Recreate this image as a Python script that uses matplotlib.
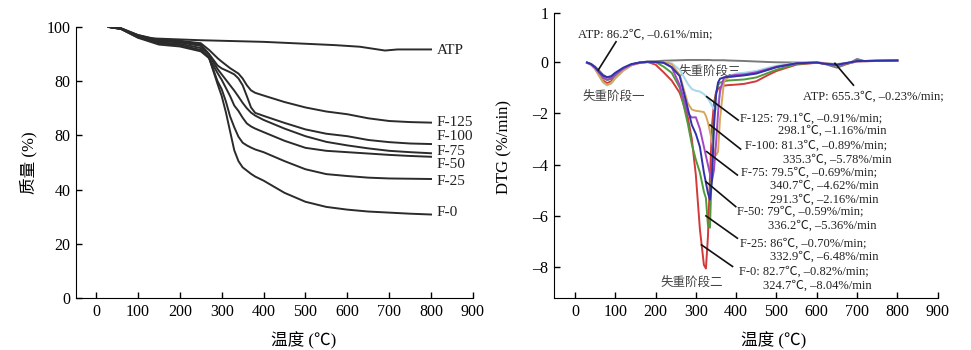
import matplotlib
matplotlib.use("Agg")
import matplotlib.pyplot as plt

plt.rcParams['font.family'] = ['Liberation Serif', 'Noto Sans CJK SC', 'DejaVu Sans']

# ---- TG data (left) ----
atp_T = [30, 60, 100, 130, 250, 400, 500, 570, 630, 660, 690, 720, 800]
atp_tg = [100, 99.4, 97, 95.8, 95.1, 94.5, 93.8, 93.3, 92.7, 92.0, 91.3, 91.7, 91.7]

tg_T = [30, 60, 100, 150, 200, 250, 270, 290, 300, 310, 320, 330, 340, 350, 360,
        370, 380, 400, 450, 500, 550, 600, 650, 700, 750, 800]
tg_f0 = [100, 99.2, 96, 93.5, 92.8, 91, 88.5, 79, 74.5, 68.5, 61.5, 54.5, 50.5, 48.2, 47,
         45.8, 44.8, 43.3, 38.8, 35.5, 33.6, 32.6, 31.9, 31.5, 31.1, 30.8]
tg_f25 = [100, 99.2, 96.2, 94, 93.3, 91.5, 88.5, 80, 77, 72.5, 67, 63, 59.5, 57.3, 56.3,
          55.5, 54.8, 53.8, 50.5, 47.5, 45.7, 45, 44.4, 44.1, 44, 43.9]
tg_f50 = [100, 99.3, 96.3, 94.3, 93.8, 92.2, 88.5, 83, 80.5, 77.5, 74.5, 71, 69, 66.5, 64.4,
          63.3, 62.5, 61.2, 58, 55.4, 54.3, 53.8, 53.3, 52.8, 52.4, 52.1]
tg_f75 = [100, 99.4, 96.6, 94.8, 94.3, 93, 89.5, 84.5, 82.5, 80.5, 78.5, 76.5, 74.3, 72, 70,
          68.4, 67.3, 65.7, 62.5, 59.7, 57.6, 56.3, 55.2, 54.3, 53.8, 53.4]
tg_f100 = [100, 99.4, 96.8, 95, 94.6, 93.5, 90, 85.8, 84.7, 84, 83.3, 82.5, 81, 78.5, 74.5,
           70.3, 68.3, 67.2, 64.6, 62.2, 60.6, 59.7, 58.3, 57.5, 57, 56.8]
tg_f125 = [100, 99.5, 97, 95.3, 94.9, 94, 91.5, 88.5, 87.2, 86, 84.8, 83.8, 82.8, 81, 78.5,
           76.6, 75.7, 74.7, 72.3, 70.3, 68.8, 67.8, 66.3, 65.3, 64.9, 64.7]

tg_names = ['ATP', 'F-125', 'F-100', 'F-75', 'F-50', 'F-25', 'F-0']
tg_label_y = [91.3, 64.9, 59.4, 53.9, 49.1, 42.8, 31.4]

# ---- DTG data (right) ----
dtg_T = [30, 40, 50, 60, 70, 80, 90, 100, 120, 140, 160, 180, 200, 220, 240, 260, 280,
         290, 300, 310, 320, 325, 330, 335, 340, 345, 350, 355, 360, 370, 380, 400, 420,
         450, 480, 500, 550, 600, 620, 650, 680, 700, 720, 750, 800]
dtg_atp = [-0.02, -0.07, -0.18, -0.33, -0.5, -0.6, -0.6, -0.46, -0.26, -0.1, -0.02, 0.02,
           0.03, 0.05, 0.06, 0.07, 0.08, 0.08, 0.08, 0.08, 0.08, 0.08, 0.08, 0.08, 0.07,
           0.07, 0.07, 0.07, 0.07, 0.07, 0.06, 0.05, 0.04, 0.02, 0.0, -0.01, -0.02, -0.02,
           -0.08, -0.22, -0.05, 0.12, 0.03, 0.05, 0.06]
dtg_f0 = [-0.03, -0.1, -0.25, -0.5, -0.72, -0.82, -0.75, -0.58, -0.3, -0.12, -0.03, 0.0,
          -0.1, -0.4, -0.72, -1.2, -2.15, -3.0, -4.4, -6.5, -7.9, -8.04, -6.8, -4.5, -2.5,
          -1.6, -1.2, -1.05, -0.98, -0.92, -0.9, -0.88, -0.85, -0.75, -0.5, -0.35, -0.1,
          -0.03, -0.06, -0.12, -0.05, 0.02, 0.03, 0.04, 0.05]
dtg_f25 = [-0.03, -0.09, -0.22, -0.42, -0.62, -0.7, -0.66, -0.5, -0.27, -0.1, -0.03, 0.0,
           0.0, -0.18, -0.42, -1.0, -2.4, -3.2, -3.8, -4.3, -5.05, -5.3, -6.35, -6.45, -4.0,
           -2.1, -1.2, -0.9, -0.8, -0.75, -0.72, -0.7, -0.68, -0.6, -0.42, -0.3, -0.08,
           -0.02, -0.06, -0.1, -0.04, 0.03, 0.04, 0.05, 0.06]
dtg_f50 = [-0.02, -0.08, -0.2, -0.38, -0.53, -0.59, -0.55, -0.42, -0.22, -0.08, -0.02, 0.01,
           0.0, -0.03, -0.2, -0.55, -1.8, -2.45, -2.8, -3.3, -4.3, -4.7, -5.1, -5.36, -4.6,
           -2.5, -1.3, -0.8, -0.65, -0.6, -0.58, -0.55, -0.52, -0.45, -0.3, -0.2, -0.05,
           -0.02, -0.07, -0.11, -0.02, 0.04, 0.04, 0.05, 0.06]
dtg_f75 = [-0.02, -0.09, -0.22, -0.42, -0.6, -0.69, -0.64, -0.49, -0.26, -0.1, -0.03, 0.0,
           0.0, -0.02, -0.2, -0.9, -2.0, -2.16, -2.15, -2.6, -3.3, -3.65, -4.0, -4.35, -4.62,
           -4.2, -3.2, -2.0, -1.1, -0.6, -0.55, -0.5, -0.48, -0.4, -0.27, -0.18, -0.05,
           -0.02, -0.06, -0.1, -0.03, 0.03, 0.04, 0.05, 0.06]
dtg_f100 = [-0.03, -0.11, -0.27, -0.53, -0.78, -0.89, -0.82, -0.63, -0.33, -0.13, -0.04, 0.0,
            0.0, 0.0, -0.08, -0.5, -1.6, -1.85, -1.9, -1.92, -1.95, -2.1, -2.35, -2.7, -3.1,
            -3.45, -3.62, -3.5, -2.2, -0.75, -0.6, -0.55, -0.5, -0.42, -0.3, -0.2, -0.05,
            -0.01, -0.05, -0.09, -0.03, 0.03, 0.04, 0.05, 0.06]
dtg_f125 = [-0.03, -0.11, -0.28, -0.54, -0.8, -0.91, -0.84, -0.64, -0.34, -0.13, -0.04, 0.0,
            0.0, 0.0, -0.05, -0.3, -0.85, -1.05, -1.12, -1.15, -1.25, -1.33, -1.42, -1.55,
            -1.7, -1.82, -1.85, -1.6, -1.2, -0.7, -0.55, -0.45, -0.42, -0.35, -0.22, -0.15,
            -0.03, -0.01, -0.04, -0.08, -0.02, 0.03, 0.04, 0.05, 0.06]

left_yticks = [0, 20, 40, 60, 80, 100]
left_yticklabels = ['0', '20', '40', '80', '80', '100']   # as printed in the original
xticks = [0, 100, 200, 300, 400, 500, 600, 700, 800, 900]

fig = plt.figure(figsize=(9.71, 3.5), dpi=100)
ax1 = fig.add_axes([0.0783, 0.1486, 0.4087, 0.7744])
ax2 = fig.add_axes([0.5705, 0.1477, 0.3952, 0.816])

for ax in (ax1, ax2):
    ax.spines['top'].set_visible(False)
    ax.spines['right'].set_visible(False)
    ax.tick_params(direction='in', length=4, width=1, labelsize=11.5, pad=4)
    ax.set_xticks(xticks)

# left: TG curves
tc = '#2b2b2b'
ax1.plot(atp_T, atp_tg, color=tc, lw=1.4)
for ys in (tg_f125, tg_f100, tg_f75, tg_f50, tg_f25, tg_f0):
    ax1.plot(tg_T, ys, color=tc, lw=1.4)
for name, yl in zip(tg_names, tg_label_y):
    ax1.text(813, yl, name, fontsize=11, va='center', ha='left', color='#222')
ax1.set_xlim(-48, 900)
ax1.set_ylim(0, 100)
ax1.set_yticks(left_yticks)
ax1.set_yticklabels(left_yticklabels)
ax1.set_xlabel('温度 (℃)', fontsize=12)
ax1.set_ylabel('质量 (%)', fontsize=12)
ax1.xaxis.set_label_coords(0.574, -0.125)
ax1.yaxis.set_label_coords(-0.098, 0.5)

# right: DTG curves
ax2.plot(dtg_T, dtg_atp, color='#7a7a7a', lw=1.4, zorder=3)
ax2.plot(dtg_T, dtg_f0, color='#d23a3a', lw=1.4, zorder=3)
ax2.plot(dtg_T, dtg_f25, color='#4f9a3c', lw=1.4, zorder=3)
ax2.plot(dtg_T, dtg_f125, color='#a9d9ea', lw=1.5, zorder=3)
ax2.plot(dtg_T, dtg_f100, color='#d8a65a', lw=1.4, zorder=3)
ax2.plot(dtg_T, dtg_f75, color='#a447c4', lw=1.4, zorder=3)
ax2.plot(dtg_T, dtg_f50, color='#2f32a8', lw=1.4, zorder=3)

ax2.set_xlim(-52, 900)
ax2.set_ylim(-9.2, 1.92)
ax2.set_yticks([-8, -6, -4, -2, 0, 1.92])
ax2.set_yticklabels(['–8', '–6', '–4', '–2', '0', '1'])
ax2.set_xlabel('温度 (℃)', fontsize=12)
ax2.set_ylabel('DTG (%/min)', fontsize=12)
ax2.xaxis.set_label_coords(0.572, -0.118)
ax2.yaxis.set_label_coords(-0.109, 0.53)

fs = 9
tcol = '#222222'
notes = [
    (8, 1.08, 'ATP: 86.2℃, –0.61%/min;'),
    (566, -1.35, 'ATP: 655.3℃, –0.23%/min;'),
    (409, -2.19, 'F-125: 79.1℃, –0.91%/min;'),
    (504, -2.68, '298.1℃, –1.16%/min'),
    (422, -3.26, 'F-100: 81.3℃, –0.89%/min;'),
    (515, -3.81, '335.3℃, –5.78%/min'),
    (411, -4.31, 'F-75: 79.5℃, –0.69%/min;'),
    (485, -4.82, '340.7℃, –4.62%/min'),
    (484, -5.37, '291.3℃, –2.16%/min'),
    (403, -5.82, 'F-50: 79℃, –0.59%/min;'),
    (480, -6.37, '336.2℃, –5.36%/min'),
    (409, -7.06, 'F-25: 86℃, –0.70%/min;'),
    (484, -7.57, '332.9℃, –6.48%/min'),
    (408, -8.18, 'F-0: 82.7℃, –0.82%/min;'),
    (467, -8.70, '324.7℃, –8.04%/min'),
]
for x, y, s in notes:
    ax2.text(x, y, s, fontsize=fs, ha='left', va='center', color=tcol, zorder=4)

leaders = [
    ((102, 0.79), (58, -0.31)),
    ((691, -0.9), (645, -0.05)),
    ((405, -2.26), (327, -1.35)),
    ((411, -3.39), (335, -2.45)),
    ((403, -4.40), (327, -3.49)),
    ((399, -5.63), (325, -4.66)),
    ((403, -6.86), (325, -5.99)),
    ((391, -7.96), (314, -7.12)),
]
for (x0, y0), (x1, y1) in leaders:
    ax2.plot([x0, x1], [y0, y1], color='#111', lw=1.2, zorder=5)

stage_col = '#444444'
ax2.text(97, -1.35, '失重阶段一', fontsize=fs, ha='center', va='center', color=stage_col)
ax2.text(335, -0.38, '失重阶段三', fontsize=fs, ha='center', va='center', color=stage_col, zorder=1)
ax2.text(289, -8.6, '失重阶段二', fontsize=fs, ha='center', va='center', color=stage_col)

fig.savefig('out.png', dpi=100)
